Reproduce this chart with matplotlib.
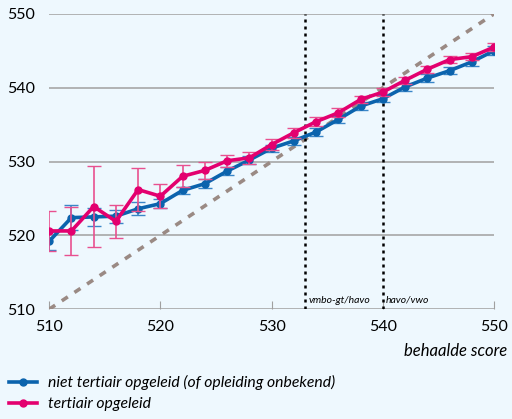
import matplotlib.pyplot as plt
from matplotlib.lines import Line2D
import numpy as np

score = np.arange(510, 551, 2)

# niet tertiair opgeleid (of opleiding onbekend)
niet_tert = [519.2, 522.4, 522.5, 522.6, 523.6, 524.3, 526.1, 527.0, 528.7, 530.2, 531.8,
             532.8, 534.0, 535.7, 537.5, 538.5, 540.1, 541.3, 542.3, 543.5, 545.0]
niet_tert_err = [1.2, 1.7, 1.2, 0.9, 0.9, 0.6, 0.5, 0.6, 0.5, 0.5, 0.5,
                 0.5, 0.5, 0.5, 0.5, 0.5, 0.5, 0.5, 0.5, 0.5, 0.6]

# tertiair opgeleid
tert = [520.6, 520.6, 523.9, 521.9, 526.2, 525.3, 528.0, 528.8, 530.1, 530.5, 532.3,
        533.9, 535.4, 536.6, 538.4, 539.4, 541.0, 542.5, 543.8, 544.2, 545.5]
tert_err = [2.7, 3.2, 5.5, 2.2, 2.9, 1.6, 1.5, 1.1, 0.8, 0.8, 0.7,
            0.7, 0.6, 0.6, 0.5, 0.5, 0.5, 0.5, 0.5, 0.5, 0.5]

grenzen = [533, 540]
grens_labels = ["vmbo-gt/havo", "havo/vwo"]

bg = "#eef8fe"
blauw = "#0b63ad"
roze = "#e3006f"

plt.rcParams['font.family'] = ['Lato', 'DejaVu Sans']

fig = plt.figure(figsize=(5.12, 4.19), dpi=100, facecolor=bg)
ax = fig.add_axes([0.096, 0.262, 0.869, 0.705], facecolor=bg)

ax.set_xlim(510, 550)
ax.set_ylim(510, 550)

for yv in range(510, 551, 10):
    ax.axhline(yv, color="#a0a0a0", lw=1.1, zorder=1)

ax.plot([510, 550], [510, 550], color="#9a8a84", lw=2.6, ls=(0, (2, 2.2)), zorder=2)

for g, lab in zip(grenzen, grens_labels):
    ax.axvline(g, color="black", lw=1.8, ls=(0, (1.2, 1.6)), zorder=2)
    ax.text(g + 0.3, 510.6, lab, fontsize=7.5, style="italic", ha="left", va="bottom")

ax.errorbar(score, niet_tert, yerr=niet_tert_err, color=blauw, lw=2.6, marker="o", ms=5,
            elinewidth=1.2, capsize=5, ecolor="#3a86c8", zorder=4)
ax.errorbar(score, tert, yerr=tert_err, color=roze, lw=2.6, marker="o", ms=5,
            elinewidth=1.2, capsize=5, ecolor="#e8508f", zorder=5)

for s in ax.spines.values():
    s.set_visible(False)

ax.set_xticks(range(510, 551, 10))
ax.set_yticks(range(510, 551, 10))
ax.tick_params(axis="x", direction="in", length=6, color="#a0a0a0", labelsize=11.5, pad=8)
ax.tick_params(axis="y", length=0, labelsize=11.5, pad=10)

ax.set_xlabel("behaalde score", fontsize=12, style="italic", loc="right")
ax.xaxis.set_label_coords(1.03, -0.115)

handles = [Line2D([], [], color=blauw, lw=2.6, marker="o", ms=5),
           Line2D([], [], color=roze, lw=2.6, marker="o", ms=5)]
labels = ["niet tertiair opgeleid (of opleiding onbekend)", "tertiair opgeleid"]
fig.legend(handles, labels, loc="upper left", bbox_to_anchor=(0.005, 0.12), frameon=False,
           prop={"style": "italic", "size": 11.3}, handlelength=1.8,
           handletextpad=0.7, labelspacing=0.45, borderaxespad=0)

fig.savefig("out.png", dpi=100, facecolor=bg)
